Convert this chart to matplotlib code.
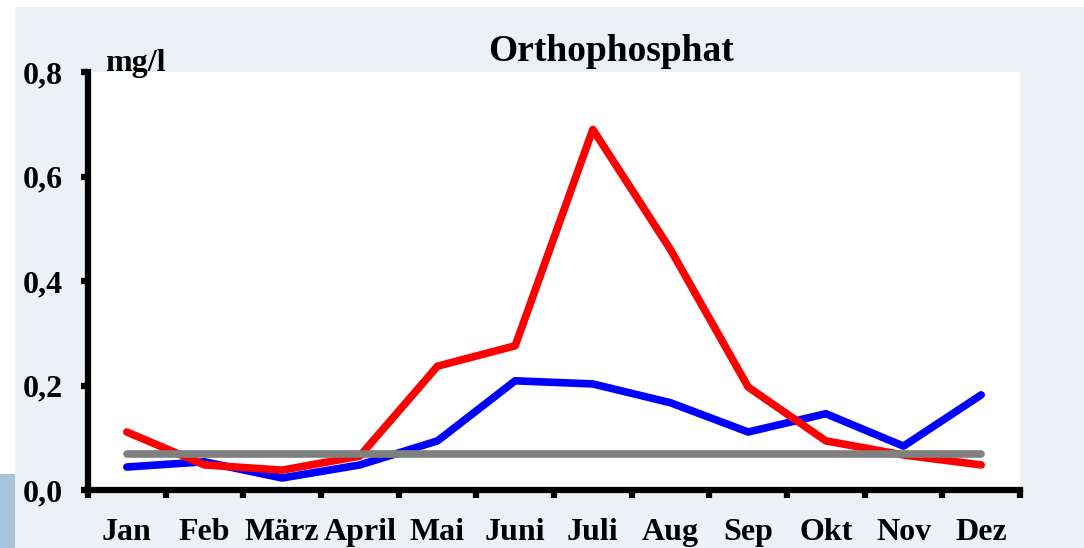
import matplotlib
matplotlib.use("Agg")
import matplotlib.pyplot as plt
from matplotlib.patches import Rectangle

months = ["Jan", "Feb", "März", "April", "Mai", "Juni", "Juli", "Aug", "Sep", "Okt", "Nov", "Dez"]
red_values = [0.111, 0.048, 0.038, 0.065, 0.237, 0.276, 0.690, 0.460, 0.197, 0.094, 0.067, 0.048]
blue_values = [0.044, 0.054, 0.023, 0.048, 0.094, 0.209, 0.203, 0.167, 0.111, 0.146, 0.084, 0.182]
gray_values = [0.069] * 12
y_ticks = [0.0, 0.2, 0.4, 0.6, 0.8]
y_tick_labels = ["0,0", "0,2", "0,4", "0,6", "0,8"]

W, H = 1084, 548
plt.rcParams["font.family"] = ["Liberation Serif", "DejaVu Serif"]
plt.rcParams["font.weight"] = "bold"

fig = plt.figure(figsize=(W / 100, H / 100), dpi=100, facecolor="white")

# background panels (behind the axes)
fig.patches.append(Rectangle((15 / W, 0), 1 - 15 / W, (H - 7) / H, transform=fig.transFigure,
                             facecolor="#ECF1F6", edgecolor="none", zorder=-10))
fig.patches.append(Rectangle((0, 0), 15 / W, (H - 474) / H, transform=fig.transFigure,
                             facecolor="#A7C4DA", edgecolor="none", zorder=-10))

ax = fig.add_axes([88 / W, (H - 490) / H, (1020 - 88) / W, (490 - 72) / H])
ax.set_facecolor("white")

x = list(range(len(months)))
ax.plot(x, red_values, color="#FF0000", lw=5.5, solid_capstyle="round", zorder=3)
ax.plot(x, gray_values, color="#808080", lw=5.5, solid_capstyle="round", zorder=4)
ax.plot(x, blue_values, color="#0000FF", lw=5.5, solid_capstyle="round", zorder=2)

ax.set_xlim(-0.5, 11.5)
ax.set_ylim(0, 0.8)

for side in ["top", "right"]:
    ax.spines[side].set_visible(False)
for side in ["left", "bottom"]:
    ax.spines[side].set_linewidth(4.5)
    ax.spines[side].set_color("black")

ax.set_yticks(y_ticks)
ax.set_yticklabels(y_tick_labels)
ax.tick_params(axis="y", direction="out", length=5, width=4.5, pad=13, labelsize=23)

ax.set_xticks([i - 0.5 for i in range(13)])
ax.set_xticklabels([])
ax.set_xticks(x, minor=True)
ax.set_xticklabels(months, minor=True)
ax.tick_params(axis="x", which="major", direction="out", length=6, width=4.5)
ax.tick_params(axis="x", which="minor", length=0, pad=20, labelsize=23)

fig.text(105 / W, (H - 71) / H, "mg/l", fontsize=23, fontweight="bold", ha="left", va="baseline")
fig.text(611 / W, (H - 61) / H, "Orthophosphat", fontsize=27, fontweight="bold", ha="center", va="baseline")

fig.savefig("out.png", dpi=100, facecolor=fig.get_facecolor())
